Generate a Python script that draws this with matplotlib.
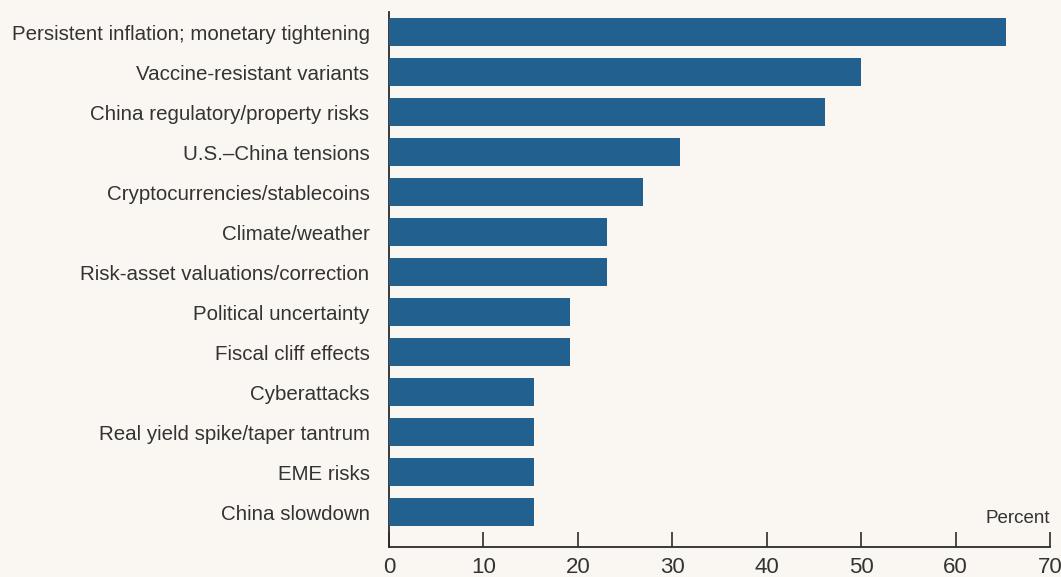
import numpy as np
import matplotlib.pyplot as plt

plt.rcParams['font.family'] = ['Liberation Sans', 'DejaVu Sans']

risks = [
    "Persistent inflation; monetary tightening",
    "Vaccine-resistant variants",
    "China regulatory/property risks",
    "U.S.\u2013China tensions",
    "Cryptocurrencies/stablecoins",
    "Climate/weather",
    "Risk-asset valuations/correction",
    "Political uncertainty",
    "Fiscal cliff effects",
    "Cyberattacks",
    "Real yield spike/taper tantrum",
    "EME risks",
    "China slowdown",
]
percent = [65.3, 50.0, 46.2, 30.8, 26.9, 23.1, 23.1, 19.2, 19.2, 15.4, 15.4, 15.4, 15.4]

bg = '#faf7f2'
bar_color = '#22618f'
text_color = '#333333'

fig = plt.figure(figsize=(10.61, 5.77), dpi=100, facecolor=bg)
ax = fig.add_axes([389 / 1061, 1 - 547 / 577, (1050 - 389) / 1061, (547 - 12) / 577])
ax.set_facecolor(bg)

y = np.arange(len(risks))
ax.barh(y, percent, height=0.72, color=bar_color, zorder=3)

ax.set_xlim(0, 70)
ax.set_ylim(12.875, -0.5)
ax.set_xticks(range(0, 71, 10))
ax.set_yticks(y)
ax.set_yticklabels(risks)

for s in ['top', 'right']:
    ax.spines[s].set_visible(False)
for s in ['left', 'bottom']:
    ax.spines[s].set_color('#2b2b2b')
    ax.spines[s].set_linewidth(1.3)

ax.tick_params(axis='x', direction='in', length=11, width=1.2, color='#2b2b2b',
               labelsize=16, labelcolor=text_color, pad=7)
ax.tick_params(axis='y', length=0, labelsize=14.8, labelcolor=text_color, pad=14)

ax.text(1.0, 12.15, "Percent", ha='right', va='center', fontsize=13.5,
        color=text_color, transform=ax.get_yaxis_transform())

fig.savefig('out.png', dpi=100, facecolor=bg)
